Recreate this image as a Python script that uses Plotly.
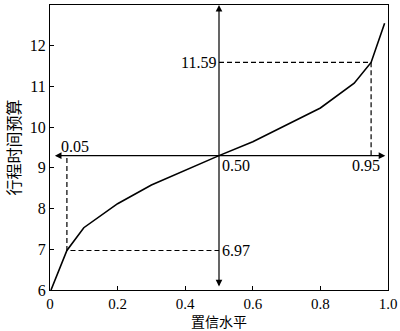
import plotly.graph_objects as go

conf = [0.003, 0.05, 0.1, 0.2, 0.3, 0.4, 0.5, 0.6, 0.7, 0.8, 0.9, 0.95, 0.99]
budget = [6.0, 6.97, 7.53, 8.12, 8.58, 8.95, 9.3, 9.64, 10.05, 10.47, 11.08, 11.59, 12.55]

x_ticks = [0, 0.2, 0.4, 0.6, 0.8, 1.0]
x_tick_text = ["0", "0.2", "0.4", "0.6", "0.8", "1.0"]
y_ticks = [6, 7, 8, 9, 10, 11, 12, 13]

x_title = "置信水平"
y_title = "行程时间预算"

lo_level, mid_level, hi_level = 0.05, 0.50, 0.95
lo_val, mid_val, hi_val = 6.97, 9.3, 11.59

serif = "Liberation Serif"
cjk = "Noto Sans CJK SC"
dash = "5px,3px"

fig = go.Figure()
fig.add_trace(go.Scatter(x=conf, y=budget, mode="lines",
                         line=dict(color="black", width=1.6), showlegend=False))
# dashed guides
fig.add_trace(go.Scatter(x=[lo_level, lo_level, mid_level], y=[mid_val - 0.06, lo_val, lo_val],
                         mode="lines", line=dict(color="black", width=1.2, dash=dash), showlegend=False))
fig.add_trace(go.Scatter(x=[mid_level, hi_level, hi_level], y=[hi_val, hi_val, mid_val],
                         mode="lines", line=dict(color="black", width=1.2, dash=dash), showlegend=False))

annotations = [
    # vertical double arrow
    dict(x=mid_level, y=13.0, ax=mid_level, ay=6.05, xref="x", yref="y", axref="x", ayref="y",
         showarrow=True, arrowhead=2, arrowside="end+start", arrowsize=1.1, arrowwidth=1.2,
         arrowcolor="black", text=""),
    # horizontal double arrow
    dict(x=0.992, y=mid_val, ax=0.01, ay=mid_val, xref="x", yref="y", axref="x", ayref="y",
         showarrow=True, arrowhead=2, arrowside="end+start", arrowsize=1.1, arrowwidth=1.2,
         arrowcolor="black", text=""),
    dict(x=0.028, y=mid_val, xref="x", yref="y", text="0.05", showarrow=False,
         xanchor="left", yanchor="bottom", yshift=-1, font=dict(family=serif, size=16, color="black")),
    dict(x=mid_level, y=hi_val, xref="x", yref="y", text="11.59", showarrow=False,
         xanchor="right", yanchor="middle", xshift=-1, font=dict(family=serif, size=16, color="black")),
    dict(x=mid_level, y=mid_val, xref="x", yref="y", text="0.50", showarrow=False,
         xanchor="left", yanchor="top", xshift=1, yshift=1, font=dict(family=serif, size=16, color="black")),
    dict(x=0.935, y=mid_val, xref="x", yref="y", text="0.95", showarrow=False,
         xanchor="center", yanchor="top", yshift=1, font=dict(family=serif, size=16, color="black")),
    dict(x=mid_level, y=lo_val, xref="x", yref="y", text="6.97", showarrow=False,
         xanchor="left", yanchor="middle", xshift=1, font=dict(family=serif, size=16, color="black")),
    # axis titles
    dict(x=0.5, y=0, xref="paper", yref="paper", text=x_title, showarrow=False,
         xanchor="center", yanchor="middle", yshift=-31,
         font=dict(family=cjk, size=14, color="black")),
    dict(x=0, y=0.5, xref="paper", yref="paper", text=y_title, showarrow=False, textangle=-90,
         xanchor="center", yanchor="middle", xshift=-38,
         font=dict(family=cjk, size=16, color="black")),
]

fig.update_layout(
    width=400, height=331,
    margin=dict(l=50, r=12, t=5, b=41, autoexpand=False),
    plot_bgcolor="white", paper_bgcolor="white",
    annotations=annotations,
    font=dict(family=serif, size=16, color="black"),
)
fig.update_xaxes(range=[0, 1.0], tickvals=x_ticks, ticktext=x_tick_text,
                 ticks="inside", ticklen=4, tickwidth=1, tickcolor="black",
                 showline=True, linecolor="black", linewidth=1.2, mirror=True,
                 showgrid=False, zeroline=False, automargin=False,
                 tickfont=dict(family=serif, size=15, color="black"))
fig.update_yaxes(range=[6, 13], tickvals=y_ticks,
                 ticks="inside", ticklen=4, tickwidth=1, tickcolor="black",
                 showline=True, linecolor="black", linewidth=1.2, mirror=True,
                 showgrid=False, zeroline=False, automargin=False,
                 tickfont=dict(family=serif, size=16, color="black"))

fig.write_html("out.html", config={"displayModeBar": False},
               post_script="document.body.style.margin='0';document.body.style.padding='0';")
